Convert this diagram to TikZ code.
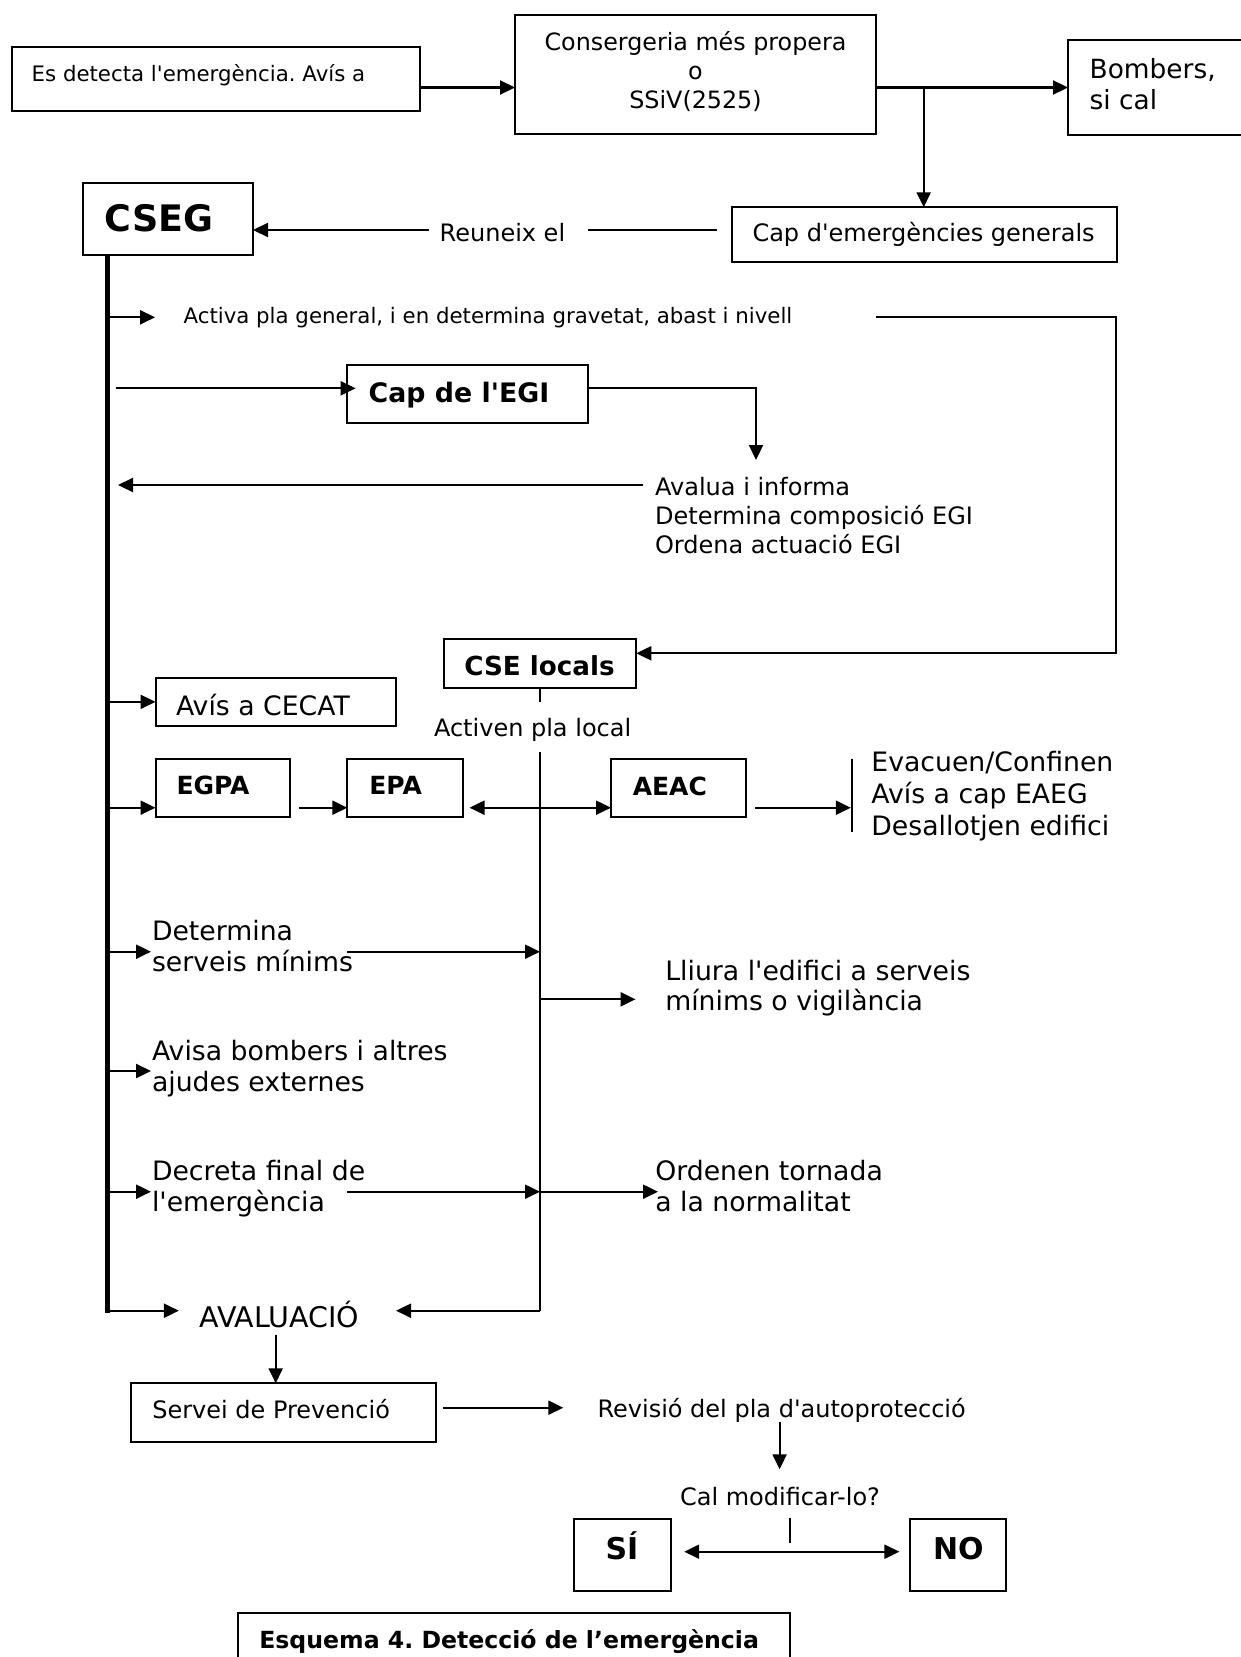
\documentclass[tikz,border=0pt]{standalone}
\usepackage{fontspec}
\setmainfont{DejaVu Sans}[Ligatures=TeXOff]
\usetikzlibrary{arrows.meta}
\newcommand\mlines[1]{\begin{tabular}[t]{@{}l@{}}#1\end{tabular}}
\newcommand\clines[1]{\begin{tabular}[t]{@{}c@{}}#1\end{tabular}}
\frenchspacing
\begin{document}
\begin{tikzpicture}[x=1pt,y=-1pt,
  box/.style={draw, line width=2pt, inner sep=0pt, outer sep=0pt, anchor=north west},
  txt/.style={inner sep=0pt, outer sep=0pt, anchor=base west},
  arr/.style={-{Triangle[length=15pt,width=14pt]}, line width=2.2pt},
  darr/.style={{Triangle[length=15pt,width=14pt]}-{Triangle[length=15pt,width=14pt]}, line width=2.2pt},
  ln/.style={line width=1.4pt},
  fA/.style={font=\fontsize{21.3}{26}\selectfont\frenchspacing},
  fB/.style={font=\fontsize{24}{29.2}\selectfont\frenchspacing},
  fC/.style={font=\fontsize{26.7}{31.7}\selectfont\frenchspacing},
  fbold/.style={font=\fontsize{#1}{#1}\selectfont\bfseries\frenchspacing}
]
\useasboundingbox (0,0) rectangle (1240,1657);
\fill[white] (0,0) rectangle (1240,1657);

% ---------- boxes ----------
\node[box, minimum width=408.1pt, minimum height=64pt] (b1) at (11.6,46.5) {};
\node[box, minimum width=361pt, minimum height=119.5pt] (cons) at (515,14.8) {};
\node[box, minimum width=200pt, minimum height=95pt] (bomb) at (1068,39.5) {};
\node[box, minimum width=385pt, minimum height=55pt] (capg) at (732,207.3) {};
\node[box, minimum width=170pt, minimum height=72.3pt] (cseg) at (83,182.7) {};
\node[box, minimum width=241pt, minimum height=58.3pt] (egi) at (347,365) {};
\node[box, minimum width=192.5pt, minimum height=48.7pt] (csel) at (443.8,639) {};
\node[box, minimum width=240.8pt, minimum height=48.3pt] (cecat) at (155.5,677.7) {};
\node[box, minimum width=134.9pt, minimum height=58.3pt] (egpa) at (155.5,759) {};
\node[box, minimum width=115.9pt, minimum height=58.3pt] (epa) at (347.3,759) {};
\node[box, minimum width=135pt, minimum height=58.3pt] (aeac) at (611,759) {};
\node[box, minimum width=305pt, minimum height=58.4pt] (serv) at (131,1383.3) {};
\node[box, minimum width=96.8pt, minimum height=72pt] (si) at (573.7,1519) {};
\node[box, minimum width=96.4pt, minimum height=72pt] (no) at (909.8,1519) {};
\node[box, minimum width=552.6pt, minimum height=80pt] (capt) at (237.7,1613.3) {};

% ---------- texts ----------
\node[txt, fA] (t1) at (31.7,81) {Es detecta l'emergència. Avís a};
\node[txt, anchor=base, font=\fontsize{23.8}{29}\selectfont] (consT) at (695.5,50) {\clines{Consergeria més propera\\o\\SSiV(2525)}};
\node[txt, font=\fontsize{26.4}{30.7}\selectfont] (bombT) at (1089.7,78.3) {\mlines{Bombers,\\si cal}};
\node[txt, fB] (capgT) at (752.5,241.7) {Cap d'emergències generals};
\node[txt, fB] (reun) at (439.7,241.7) {Reuneix el};
\node[txt, fbold=36.5] (csegT) at (104.8,231.7) {CSEG};
\node[txt, fA] (act) at (183.6,323.3) {Activa pla general, i en determina gravetat, abast i nivell};
\node[txt, fbold=26.8] (egiT) at (368.7,402.7) {Cap de l'EGI};
\node[txt, fB] (aval) at (655.1,495) {\mlines{Avalua i informa\\Determina composició EGI\\Ordena actuació EGI}};
\node[txt, fbold=26.2] (cselT) at (464.3,675.7) {CSE locals};
\node[txt, fB] (activ) at (434,736.7) {Activen pla local};
\node[txt, fC] (cecatT) at (176,715) {Avís a CECAT};
\node[txt, fbold=25] (egpaT) at (176.5,794) {EGPA};
\node[txt, fbold=25] (epaT) at (369.4,794) {EPA};
\node[txt, fbold=25] (aeacT) at (632.8,795) {AEAC};
\node[txt, fC] (evac) at (871.4,771.7) {\mlines{Evacuen/Confinen\\Avís a cap EAEG\\Desallotjen edifici}};
\node[txt, fC] (deter) at (152,940) {\mlines{Determina\\serveis mínims}};
\node[txt, font=\fontsize{26.7}{30}\selectfont] (lliura) at (665.3,980) {\mlines{Lliura l'edifici a serveis\\mínims o vigilància}};
\node[txt, font=\fontsize{26.7}{31}\selectfont] (avisa) at (152,1060) {\mlines{Avisa bombers i altres\\ajudes externes}};
\node[txt, fC] (decr) at (152,1180) {\mlines{Decreta final de\\l'emergència}};
\node[txt, fC] (ord) at (655.3,1180) {\mlines{Ordenen tornada\\a la normalitat}};
\node[txt, font=\fontsize{28.5}{32}\selectfont] (avalT) at (199.3,1327.3) {AVALUACIÓ};
\node[txt, fB] (servT) at (152.3,1418.3) {Servei de Prevenció};
\node[txt, fB] (rev) at (597.5,1417.3) {Revisió del pla d'autoprotecció};
\node[txt, fB, anchor=base] (calm) at (780,1505) {Cal modificar-lo?};
\node[txt, fbold=30, anchor=base] (siT) at (621.9,1559.3) {SÍ};
\node[txt, fbold=30, anchor=base] (noT) at (958.3,1559.3) {NO};
\node[txt, fbold=23.6] (captT) at (259.3,1648) {Esquema 4. Detecció de l’emergència};

% ---------- coordinates ----------
\coordinate (y87) at (0,87.5);
\coordinate (jn) at (923.7,87.5);
\coordinate (r1) at (716.9,230);
\coordinate (r2) at (588.4,230);
\coordinate (r3) at (429,230);
\coordinate (spX) at (107.5,0);
\coordinate (spB) at (107.5,1312.5);
\coordinate (a1) at (155.1,317.3);
\coordinate (rt) at (875.5,317.3);
\coordinate (rc) at (1116,653.3);
\coordinate (e0) at (116.4,388.3);
\coordinate (edn) at (756,460);
\coordinate (av0) at (643,485);
\coordinate (av1) at (118,485);
\coordinate (ey) at (0,807.7);
\coordinate (barT) at (851.8,759);
\coordinate (barB) at (851.8,832.3);
\coordinate (vx) at (540,0);
\coordinate (v1) at (540,689);
\coordinate (v2) at (540,701.7);
\coordinate (v3) at (540,751.7);
\coordinate (v4) at (540,1310.7);
\coordinate (avR) at (396,1310.7);
\coordinate (avL) at (178.9,1310.7);
\coordinate (dTip) at (151,951.7);
\coordinate (d1) at (347,951.7);
\coordinate (l1) at (635.5,999.3);
\coordinate (aTip) at (151,1071);
\coordinate (cTip) at (151,1191.7);
\coordinate (c1) at (347,1191.7);
\coordinate (c2) at (658,1191.7);
\coordinate (sd0) at (275.7,1335);
\coordinate (sy) at (0,1407.7);
\coordinate (sTip) at (563.3,1407.7);
\coordinate (q0) at (779.6,1421.7);
\coordinate (q1) at (779.6,1469.3);
\coordinate (k0) at (790,1518.3);
\coordinate (k1) at (790,1543.3);
\coordinate (dy) at (0,1551.7);

% ---------- connectors ----------
\draw[arr] (b1.east |- y87) -- (cons.west |- y87);
\draw[arr] (cons.east |- y87) -- (bomb.west |- y87);
\draw[arr] (jn) -- (jn |- capg.north);
\draw[ln] (r1) -- (r2);
\draw[arr] (r3) -- (cseg.east |- r3);
\draw[line width=5pt] (cseg.south -| spX) -- (spB);
\draw[arr] (spX |- a1) -- (a1);
\draw[arr] (rt) -| (rc) -- (csel.east |- rc);
\draw[arr] (e0) -- ([xshift=8.6pt]egi.west |- e0);
\draw[arr] (egi.east |- e0) -| (edn);
\draw[arr] (av0) -- (av1);
\draw[arr] (spX |- cecat.west) -- (cecat.west);
\draw[arr] (spX |- ey) -- (egpa.west |- ey);
\draw[arr] ([xshift=8.3pt]egpa.east |- ey) -- (epa.west |- ey);
\draw[darr] ([xshift=6.3pt]epa.east |- ey) -- (aeac.west |- ey);
\draw[arr] ([xshift=9pt]aeac.east |- ey) -- ([xshift=-1pt]barT |- ey);
\draw[ln] (barT) -- (barB);
\draw[ln] (v1) -- (v2);
\draw[ln] (v3) -- (v4);
\draw[arr] (v4) -- (avR);
\draw[arr] (spX |- dTip) -- (dTip);
\draw[arr] (d1) -- (vx |- d1);
\draw[arr] (vx |- l1) -- (l1);
\draw[arr] (spX |- aTip) -- (aTip);
\draw[arr] (spX |- cTip) -- (cTip);
\draw[arr] (c1) -- (vx |- c1);
\draw[arr] (vx |- c2) -- (c2);
\draw[arr] (spX |- avL) -- (avL);
\draw[arr] (sd0) -- (serv.north -| sd0);
\draw[arr] ([xshift=6.7pt]serv.east |- sy) -- (sTip);
\draw[arr] (q0) -- (q1);
\draw[ln] (k0) -- (k1);
\draw[darr] ([xshift=13.7pt]si.east |- dy) -- ([xshift=-10.4pt]no.west |- dy);
\end{tikzpicture}
\end{document}
